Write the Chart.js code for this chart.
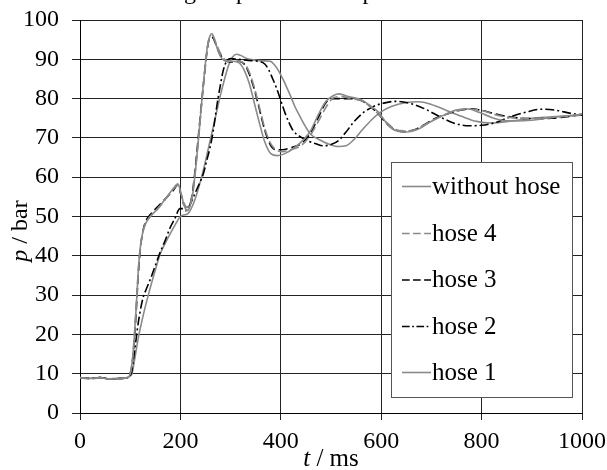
<!DOCTYPE html>
<html>
<head>
<meta charset="utf-8">
<script src="https://cdn.jsdelivr.net/npm/chart.js@4.4.1/dist/chart.umd.min.js"></script>
<style>
html,body{margin:0;padding:0;background:#fff;}
#wrap{width:607px;height:470px;}
</style>
</head>
<body>
<div id="wrap"><canvas id="c" width="607" height="470"></canvas></div>
<script>
const seriesLabels = ['without hose', 'hose 4', 'hose 3', 'hose 2', 'hose 1'];

const tWithout = [0,20,40,60,80,95,100,104,108,112,116,120,125,130,140,155,170,185,195,201,207,213,219,225,231,237,243,249,254,259,263,268,274,282,292,305,318,328,338,348,358,368,380,393,408,425,445,460,475,490,505,516,535,560,580,596,612,630,650,675,694,720,747,770,795,820,845,870,900,930,960,1000];
const pWithout = [9,8.8,9,8.6,8.8,9,10,13,19,27,36,42,46,48,50,52,54.5,57,58.3,56,53,51.5,52.5,56,63,71,80,88,93.5,96,96.5,95,92.5,90.3,89.5,89.5,89,87,83.5,78.5,73.5,69,66,65.5,66,67.3,69.5,72,76,79.3,80.8,81.2,80.5,79.7,78,76.4,73.5,71.8,71.5,72.3,73.8,75.5,77,77.4,76.5,75.2,74.4,74.3,74.5,75,75.5,76];

const tHose34 = [0,20,40,60,80,95,100,104,108,112,116,120,125,130,140,155,170,185,195,201,207,213,219,225,231,237,243,249,254,259,264,270,278,288,300,315,328,338,348,358,368,378,390,403,420,440,458,474,490,505,520,540,560,578,595,612,628,645,665,685,705,730,755,780,800,825,850,880,910,940,970,1000];
const pHose4 = [9,8.7,8.9,8.7,8.8,9,10,13,19,27,36,42,46,48,50,52,54.3,56.8,58,56,53.5,52.3,53,56.5,63,71,79.5,87.5,93,95.8,96,94.5,92,90,89.5,89.5,88.8,86.5,82.5,77.5,72.5,69,67,66.5,67,68,70.5,74,77.8,80.2,80.5,80,79.5,78,76,73.8,72.2,71.8,72,73.2,74.6,76,77,77.3,77,76,75.3,75,75,75.2,75.5,75.9];
const pHose3 = [9,8.8,9,8.6,8.8,8.9,10,12.5,18,26,35,41.5,46,48.5,50.5,52.5,54.5,56.5,58,55.5,53,52.3,53,57,64,72,80,87.5,93,95.5,95.5,94,91.5,89.8,89.3,89.5,88.7,86,82,77,72,68.5,67,67,67.5,68.5,71,75,79,80,80,80,79.5,78,76,73.5,72,71.6,72,73.3,74.8,76,77,77.4,77,76.2,75.5,75,74.9,75,75.4,76];

const tHose2 = [0,20,40,60,80,95,100,103,107,111,115,120,126,132,140,150,160,170,179,189,199,205,211,219,226,233,240,246,252,258,263,268,273,279,285,292,300,315,335,355,368,376,384,392,400,408,416,425,440,455,470,484,500,515,530,545,565,585,600,630,660,690,715,744,775,800,830,860,890,920,950,975,1000];
const pHose2 = [9,8.8,9,8.7,8.8,9,9.5,10.5,14,18,22,26,29.5,31.5,34,37.5,41,44,47,49.5,52,52,51.5,53,55,57,59,61,64,67,70,74,78.5,83,87,89.5,90.2,90,89.7,89.5,88.8,87.3,85,82.5,79.5,76.5,74,71.8,70.2,69.2,68.5,68,68.3,69.3,71.5,74,76.5,78,78.7,79.3,78.7,77.2,75.5,73.8,73.1,73.2,74,75.5,76.6,77.3,77,76.3,75.8];

const tHose1 = [0,20,40,60,80,95,100,104,108,112,116,120,128,136,148,160,175,190,200,206,212,218,225,232,240,248,256,264,272,280,288,296,304,312,320,332,348,365,379,388,396,404,412,420,428,436,445,459,479,498,515,530,545,562,580,598,620,650,675,700,730,760,790,820,860,900,940,975,1000];
const pHose1 = [9,8.8,9,8.7,8.8,9,9.4,10.2,13,16,19,21.5,26,30,35.5,40.5,44.5,48,50,50.4,50.5,51.2,53,55.5,59,63,67.5,72,76.5,81,85,88.5,90.6,91.3,91,90.2,89.8,89.6,89.5,88.5,87,85,82.8,80.5,78,76,73.8,71,69.4,68.3,67.8,68,69.5,72,74.5,76.5,78,79,79.2,78.5,77,75.5,74.2,73.8,74.3,75,75.4,75.6,75.8];

const xTicks = [0, 200, 400, 600, 800, 1000];
const yTicks = [0, 10, 20, 30, 40, 50, 60, 70, 80, 90, 100];

function pts(ts, ps) {
  const n = Math.min(ts.length, ps.length);
  const out = [];
  for (let i = 0; i < n; i++) out.push({x: ts[i], y: ps[i]});
  return out;
}

const GRAY = '#8a8a8a';
const BLACK = '#000000';
const FONT = "'Liberation Serif', 'Times New Roman', serif";

const datasets = [
  {label: seriesLabels[0], data: pts(tWithout, pWithout), borderColor: GRAY, borderDash: []},
  {label: seriesLabels[1], data: pts(tHose34, pHose4), borderColor: GRAY, borderDash: [9, 4]},
  {label: seriesLabels[2], data: pts(tHose34, pHose3), borderColor: BLACK, borderDash: [9, 4]},
  {label: seriesLabels[3], data: pts(tHose2, pHose2), borderColor: BLACK, borderDash: [9, 3, 2, 3]},
  {label: seriesLabels[4], data: pts(tHose1, pHose1), borderColor: GRAY, borderDash: []}
].map(d => Object.assign(d, {
  borderWidth: 1.6, pointRadius: 0, fill: false,
  cubicInterpolationMode: 'monotone', backgroundColor: d.borderColor
}));

const extras = {
  id: 'extras',
  afterDraw(chart) {
    const c = chart.ctx;
    c.save();
    // clipped heading (only descenders visible)
    c.fillStyle = '#000';
    c.font = '24px ' + FONT;
    c.textAlign = 'left';
    c.textBaseline = 'alphabetic';
    c.fillText('Loading for pressure and power', 116, -1);

    // x title
    c.font = 'italic 25px ' + FONT;
    const tW = c.measureText('t').width;
    c.font = '25px ' + FONT;
    const restW = c.measureText(' / ms').width;
    let x0 = 331 - (tW + restW) / 2;
    c.font = 'italic 25px ' + FONT;
    c.fillText('t', x0, 466);
    c.font = '25px ' + FONT;
    c.fillText(' / ms', x0 + tW, 466);

    // y title
    c.translate(27, 231);
    c.rotate(-Math.PI / 2);
    c.font = 'italic 24px ' + FONT;
    const pW = c.measureText('p').width;
    c.font = '24px ' + FONT;
    const barW = c.measureText(' / bar').width;
    let y0 = -(pW + barW) / 2;
    c.font = 'italic 24px ' + FONT;
    c.fillText('p', y0, 0);
    c.font = '24px ' + FONT;
    c.fillText(' / bar', y0 + pW, 0);
    c.restore();

    // legend
    c.save();
    const lx = 391, ly = 162, lw = 181, lh = 235;
    c.fillStyle = '#fff';
    c.fillRect(lx, ly, lw, lh);
    c.strokeStyle = '#555';
    c.lineWidth = 1;
    c.strokeRect(lx + 0.5, ly + 0.5, lw, lh);
    const rowY = [186, 233, 279.5, 326, 372];
    chart.data.datasets.forEach((d, i) => {
      const y = rowY[i];
      c.strokeStyle = d.borderColor;
      c.lineWidth = 1.6;
      c.setLineDash(d.borderDash.map(v => v * 0.85));
      c.beginPath();
      c.moveTo(402, y + 0.5);
      c.lineTo(431, y + 0.5);
      c.stroke();
      c.setLineDash([]);
      c.fillStyle = '#000';
      c.font = '25px ' + FONT;
      c.textBaseline = 'middle';
      c.textAlign = 'left';
      c.fillText(d.label, 432, y + 1);
    });
    c.restore();
  }
};

new Chart(document.getElementById('c'), {
  type: 'line',
  data: {datasets},
  plugins: [extras],
  options: {
    responsive: false,
    animation: false,
    devicePixelRatio: 1,
    layout: {padding: {top: 20, right: 25, left: 0, bottom: 0}},
    plugins: {legend: {display: false}, tooltip: {enabled: false}, title: {display: false}},
    scales: {
      x: {
        type: 'linear', min: 0, max: 1000,
        afterBuildTicks(s) { s.ticks = xTicks.map(v => ({value: v})); },
        ticks: {color: '#000', font: {family: FONT, size: 24}, padding: 7, maxRotation: 0, autoSkip: false,
                callback: v => String(v)},
        grid: {color: '#222', lineWidth: 1, tickLength: 7, drawTicks: true},
        border: {color: '#000', width: 1},
        afterFit(s) { s.height = 57; s.paddingLeft = 0; s.paddingRight = 0; }
      },
      y: {
        type: 'linear', min: 0, max: 100,
        afterBuildTicks(s) { s.ticks = yTicks.map(v => ({value: v})); },
        ticks: {color: '#000', font: {family: FONT, size: 24}, padding: 13, autoSkip: false,
                callback: v => String(v)},
        grid: {color: '#222', lineWidth: 1, tickLength: 8, drawTicks: true},
        border: {color: '#000', width: 1},
        afterFit(s) { s.width = 80; s.paddingTop = 0; s.paddingBottom = 0; }
      }
    }
  }
});
</script>
</body>
</html>
